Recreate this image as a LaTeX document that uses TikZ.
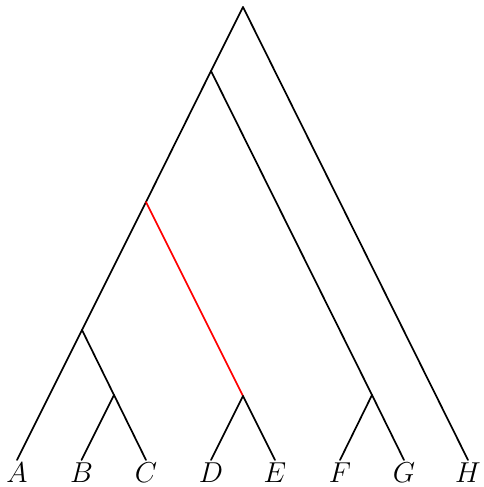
\documentclass[tikz,border=0pt]{standalone}
\begin{document}
\begin{tikzpicture}[x=0.5pt,y=-0.5pt,
  edge/.style={line width=0.85pt,line cap=round},
  redge/.style={edge,red},
  leaf/.style={anchor=base,font=\fontsize{14.5}{17}\selectfont,inner sep=0pt}]
\useasboundingbox (0,0) rectangle (483,487);
\coordinate (root) at (243,7);
\coordinate (n1) at (211,71);
\coordinate (n2) at (146,202);
\coordinate (n3) at (82,330);
\coordinate (bc) at (114,395);
\coordinate (de) at (243,396);
\coordinate (fg) at (372,395);
\coordinate (A) at (17,460);
\coordinate (B) at (81.5,460);
\coordinate (C) at (146,460);
\coordinate (D) at (211,460);
\coordinate (E) at (275,460);
\coordinate (F) at (340,460);
\coordinate (G) at (404,460);
\coordinate (H) at (468,460);
\foreach \l in {A,B,C,D,E,F,G,H}
  \node[leaf] (lab\l) at ([yshift=-11.3pt]\l) {$\l$};
\draw[edge] (root) -- (n1);
\draw[edge] (n1) -- (n2);
\draw[edge] (n2) -- (n3);
\draw[edge] (n3) -- (A);
\draw[edge] (n3) -- (bc);
\draw[edge] (bc) -- (B);
\draw[edge] (bc) -- (C);
\draw[redge] (n2) -- (de);
\draw[edge] (de) -- (D);
\draw[edge] (de) -- (E);
\draw[edge] (n1) -- (fg);
\draw[edge] (fg) -- (F);
\draw[edge] (fg) -- (G);
\draw[edge] (root) -- (H);
\end{tikzpicture}
\end{document}
